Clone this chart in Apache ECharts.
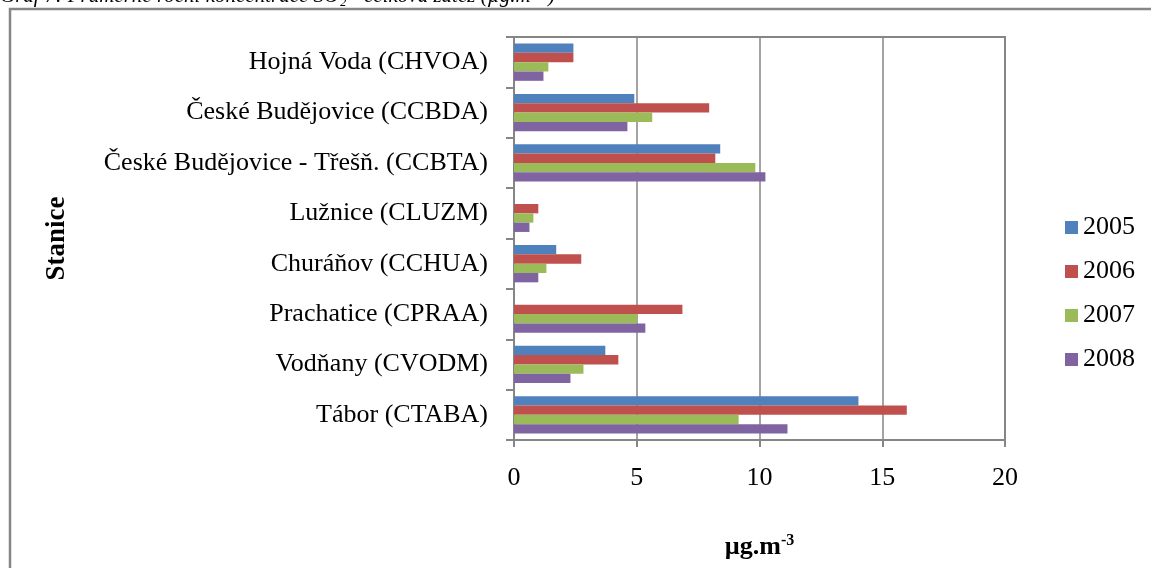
<!DOCTYPE html>
<html>
<head>
<meta charset="utf-8">
<script src="https://cdn.jsdelivr.net/npm/echarts@6/dist/echarts.min.js"></script>
<style>
  html, body { margin: 0; padding: 0; background: #fff; }
  #chart { width: 1151px; height: 568px; }
</style>
</head>
<body>
<div id="chart"></div>
<script>
// stanice (shora dolů)
var stanice = [
  'Hojná Voda (CHVOA)',
  'České Budějovice (CCBDA)',
  'České Budějovice - Třešň. (CCBTA)',
  'Lužnice (CLUZM)',
  'Churáňov (CCHUA)',
  'Prachatice (CPRAA)',
  'Vodňany (CVODM)',
  'Tábor (CTABA)'
];
var roky = ['2005', '2006', '2007', '2008'];
var barvy = ['#4F81BD', '#C0504D', '#9BBB59', '#8064A2'];

// průměrné roční koncentrace SO2 (µg.m-3)
var data2005 = [2.42, 4.9, 8.4, null, 1.72, null, 3.72, 14.03];
var data2006 = [2.42, 7.95, 8.2, 0.99, 2.74, 6.86, 4.25, 16.0];
var data2007 = [1.4, 5.63, 9.83, 0.79, 1.32, 5.02, 2.83, 9.15];
var data2008 = [1.2, 4.62, 10.24, 0.63, 0.99, 5.35, 2.3, 11.14];

var xTicks = [0, 5, 10, 15, 20];

var serif = '"Liberation Serif", "DejaVu Serif", serif';
var seda = '#868686';

var chart = echarts.init(document.getElementById('chart'), null, { renderer: 'canvas' });

var hodnoty = [data2005, data2006, data2007, data2008];
var series = roky.map(function (rok, i) {
  return {
    name: rok,
    type: 'bar',
    data: hodnoty[i],
    itemStyle: { color: barvy[i] },
    barGap: '0%',
    barCategoryGap: '26%',
    animation: false
  };
});

var option = {
  animation: false,
  title: {
    text: 'Graf 7: Průměrné roční koncentrace SO\u2082 - celková zátěž (µg.m\u207B\u00B3)',
    left: 0,
    top: -14,
    padding: 0,
    textStyle: {
      fontFamily: serif,
      fontStyle: 'italic',
      fontWeight: 'normal',
      fontSize: 21,
      color: '#000'
    }
  },
  graphic: [
    {
      type: 'rect',
      shape: { x: 10, y: 9, width: 1300, height: 700 },
      style: { fill: 'none', stroke: seda, lineWidth: 2.5 },
      silent: true
    },
    {
      // rámeček plochy grafu (horní a pravá strana)
      type: 'polyline',
      shape: { points: [[514, 37], [1005, 37], [1005, 440]] },
      style: { fill: 'none', stroke: seda, lineWidth: 2 },
      silent: true,
      z: 10
    }
  ],
  legend: {
    orient: 'vertical',
    left: 1060,
    top: 209,
    itemWidth: 13,
    itemHeight: 13,
    itemGap: 17,
    icon: 'rect',
    data: roky,
    textStyle: { fontFamily: serif, fontSize: 26, lineHeight: 27, color: '#000' }
  },
  grid: {
    left: 514,
    right: 146,
    top: 37,
    bottom: 128,
    containLabel: false
  },
  xAxis: {
    type: 'value',
    min: xTicks[0],
    max: xTicks[xTicks.length - 1],
    interval: 5,
    name: 'µg.m{sup|-3}',
    nameLocation: 'middle',
    nameGap: 93,
    nameTextStyle: {
      fontFamily: serif,
      fontSize: 26,
      fontWeight: 'bold',
      color: '#000',
      rich: {
        sup: { fontFamily: serif, fontSize: 16, fontWeight: 'bold', color: '#000', verticalAlign: 'top', padding: [0, 0, 12, 0] }
      }
    },
    axisLine: { show: true, lineStyle: { color: seda, width: 2 } },
    axisTick: { show: true, length: 7, lineStyle: { color: seda, width: 2 } },
    axisLabel: { margin: 25, fontFamily: serif, fontSize: 26, color: '#000' },
    splitLine: { show: true, lineStyle: { color: seda, width: 1.5 } }
  },
  yAxis: {
    type: 'category',
    inverse: true,
    data: stanice,
    name: 'Stanice',
    nameLocation: 'middle',
    nameGap: 443,
    nameTextStyle: { fontFamily: serif, fontSize: 27, fontWeight: 'bold', color: '#000' },
    axisLine: { show: true, lineStyle: { color: seda, width: 2 } },
    axisTick: { show: true, length: 8, lineStyle: { color: seda, width: 2 } },
    axisLabel: { margin: 26, fontFamily: serif, fontSize: 26, color: '#000' },
    splitLine: { show: false }
  },
  series: series
};

chart.setOption(option);
</script>
</body>
</html>
